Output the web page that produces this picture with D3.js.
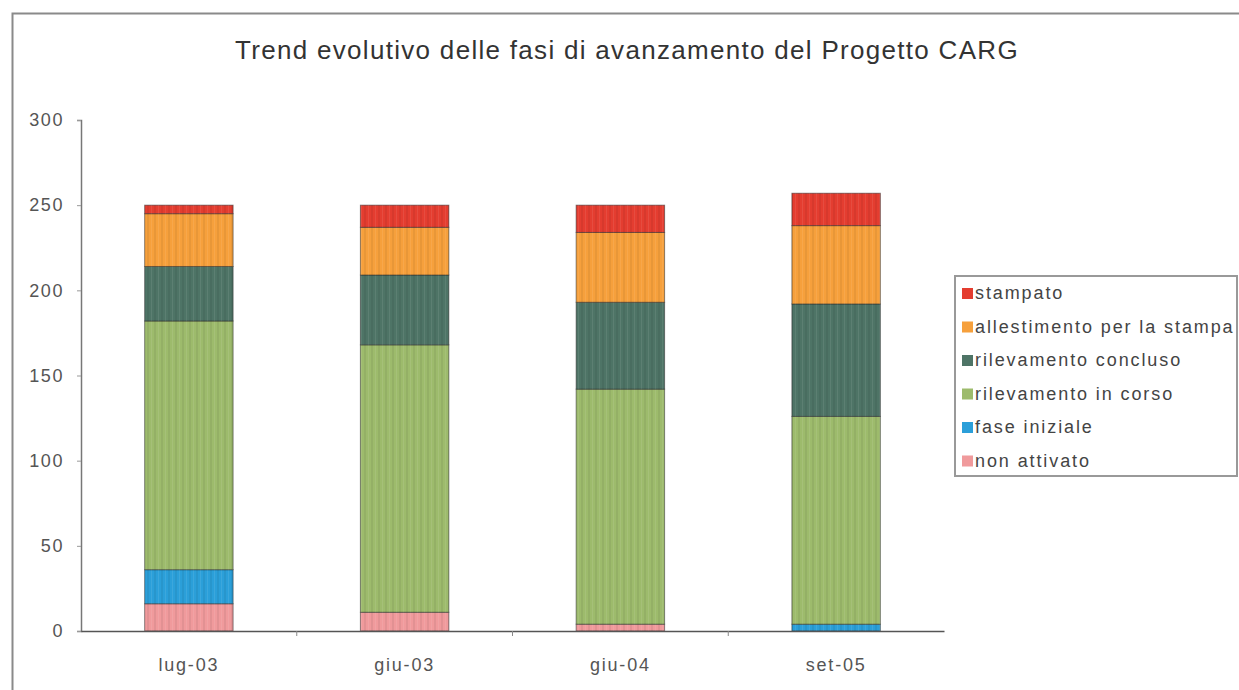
<!DOCTYPE html>
<html>
<head>
<meta charset="utf-8">
<script src="https://cdn.jsdelivr.net/npm/d3@7"></script>
<style>
  body { margin: 0; background: #fff; }
  text { font-family: "Liberation Sans", Arial, sans-serif; }
</style>
</head>
<body>
<svg id="chart"></svg>
<script>
const width = 1239;
const height = 690;

// categories and series
const periods = ["lug-03", "giu-03", "giu-04", "set-05"];
const phases = [
  "non attivato",
  "fase iniziale",
  "rilevamento in corso",
  "rilevamento concluso",
  "allestimento per la stampa",
  "stampato",
];
const nonAttivato = [16, 11, 4, 0];
const faseIniziale = [20, 0, 0, 4];
const rilevamentoInCorso = [146, 157, 138, 122];
const rilevamentoConcluso = [32, 41, 51, 66];
const allestimento = [31, 28, 41, 46];
const stampato = [5, 13, 16, 19];
const yTicks = [0, 50, 100, 150, 200, 250, 300];

const phaseColors = ["#f09a9c", "#2b9fd9", "#9dbb6c", "#4e7466", "#f6a03c", "#e43d30"];

const seriesValues = [nonAttivato, faseIniziale, rilevamentoInCorso, rilevamentoConcluso, allestimento, stampato];
const rows = periods.map((p, i) => {
  const r = { period: p };
  phases.forEach((ph, j) => (r[ph] = seriesValues[j][i]));
  return r;
});

const svg = d3.select("#chart").attr("width", width).attr("height", height);

// faint vertical stripes like the scanned original
const defs = svg.append("defs");
const pat = defs.append("pattern")
  .attr("id", "stripes")
  .attr("patternUnits", "userSpaceOnUse")
  .attr("width", 7).attr("height", 10);
pat.append("rect").attr("x", 0).attr("width", 2).attr("height", 10).attr("fill", "#000").attr("opacity", 0.06);
pat.append("rect").attr("x", 4).attr("width", 1).attr("height", 10).attr("fill", "#fff").attr("opacity", 0.08);

// outer frame (only top and left visible)
svg.append("rect")
  .attr("x", 12.5).attr("y", 13.5)
  .attr("width", width + 20).attr("height", height + 20)
  .attr("fill", "none").attr("stroke", "#8a8a8a").attr("stroke-width", 2);

const x = d3.scaleBand().domain(periods).range([81, 944]).paddingInner(0.59).paddingOuter(0.295);
const xAxisScale = d3.scaleBand().domain(periods).range([81, 944]);
const y = d3.scaleLinear().domain([0, 300]).range([631, 120]);
const color = d3.scaleOrdinal().domain(phases).range(phaseColors);

const stack = d3.stack().keys(phases)(rows);

// bars
const segs = svg.append("g")
  .selectAll("g")
  .data(stack)
  .join("g")
  .attr("fill", (d) => color(d.key))
  .selectAll("g")
  .data((d) => d.filter((s) => s[1] - s[0] > 0))
  .join("g");
segs.append("rect")
  .attr("x", (d) => x(d.data.period))
  .attr("y", (d) => y(d[1]))
  .attr("width", x.bandwidth())
  .attr("height", (d) => y(d[0]) - y(d[1]))
  .attr("stroke", "#2e2e2e")
  .attr("stroke-opacity", 0.55)
  .attr("stroke-width", 1);
segs.append("rect")
  .attr("x", (d) => x(d.data.period))
  .attr("y", (d) => y(d[1]))
  .attr("width", x.bandwidth())
  .attr("height", (d) => y(d[0]) - y(d[1]))
  .attr("fill", "url(#stripes)");

// y axis
const yAxis = svg.append("g")
  .attr("transform", "translate(81,0)")
  .call(d3.axisLeft(y).tickValues(yTicks).tickSize(4).tickPadding(13));
yAxis.select(".domain").attr("stroke", "#777").attr("stroke-width", 1.5);
yAxis.selectAll(".tick line").attr("stroke", "#999");
yAxis.selectAll("text").attr("font-size", 18).attr("letter-spacing", 1.6).attr("fill", "#555");

// x axis
const xAxis = svg.append("g")
  .attr("transform", "translate(0,631)")
  .call(d3.axisBottom(xAxisScale).tickSize(0).tickPadding(27));
xAxis.select(".domain").attr("stroke", "#555").attr("stroke-width", 1.5);
xAxis.selectAll("text").attr("font-size", 18).attr("letter-spacing", 1.8).attr("fill", "#555").attr("dy", "0.71em");
xAxis.append("g")
  .selectAll("line")
  .data(periods.slice(1))
  .join("line")
  .attr("x1", (d) => xAxisScale(d))
  .attr("x2", (d) => xAxisScale(d))
  .attr("y1", 0).attr("y2", 5)
  .attr("stroke", "#888");

// title
svg.append("text")
  .attr("x", 627).attr("y", 59)
  .attr("text-anchor", "middle")
  .attr("font-size", 26)
  .attr("letter-spacing", 1.3)
  .attr("fill", "#333")
  .text("Trend evolutivo delle fasi di avanzamento del Progetto CARG");

// legend
const legend = svg.append("g").attr("transform", "translate(955,276)");
legend.append("rect")
  .attr("width", 282).attr("height", 200)
  .attr("fill", "#fff").attr("stroke", "#999").attr("stroke-width", 2);
const legendItems = phases.slice().reverse();
const item = legend.selectAll(".item")
  .data(legendItems)
  .join("g")
  .attr("class", "item")
  .attr("transform", (d, i) => `translate(7,${17 + i * 33.5})`);
item.append("rect")
  .attr("x", 0).attr("y", -5)
  .attr("width", 11).attr("height", 11)
  .attr("fill", (d) => color(d));
item.append("text")
  .attr("x", 13).attr("dy", "0.35em")
  .attr("font-size", 18)
  .attr("letter-spacing", 1.9)
  .attr("fill", "#444")
  .text((d) => d);
</script>
</body>
</html>
